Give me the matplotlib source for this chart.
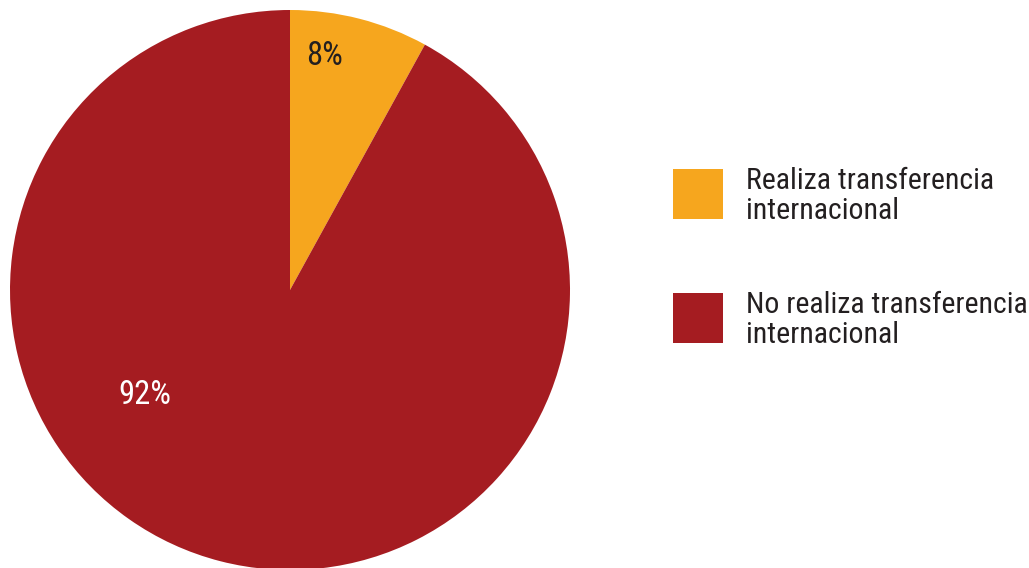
import matplotlib.pyplot as plt
from matplotlib.patches import Rectangle

# data
labels = ["Realiza transferencia\ninternacional", "No realiza transferencia\ninternacional"]
values = [8, 92]
colors = ["#F6A61E", "#A51C21"]
# where the percentage labels sit, in pie units (radius 1)
label_pos = [(0.125, 0.835), (-0.52, -0.375)]

plt.rcParams['font.family'] = ['Roboto Condensed', 'DejaVu Sans']

fig = plt.figure(figsize=(10.29, 5.68), dpi=100)
ax = fig.add_axes([10 / 1029, -2 / 568, 560 / 1029, 560 / 568])
ax.pie(values, colors=colors, startangle=90, counterclock=False, radius=1,
       wedgeprops=dict(linewidth=0))
ax.set_xlim(-1, 1)
ax.set_ylim(-1, 1)
ax.set_aspect('equal')
ax.axis('off')

txt_colors = ["#231F20", "white"]
for v, (x, y), c in zip(values, label_pos, txt_colors):
    ax.text(x, y, f"{v}%", ha='center', va='center', fontsize=23.5, color=c)

# legend drawn by hand
W, H = 1029, 568
for i, (lab, col) in enumerate(zip(labels, colors)):
    top = 169 + i * 124
    fig.patches.append(Rectangle((673 / W, 1 - (top + 50) / H), 50 / W, 50 / H,
                                 facecolor=col, transform=fig.transFigure, figure=fig))
    fig.text(746 / W, 1 - (top + 27) / H, lab, ha='left', va='center', fontsize=21.5,
             color="#231F20", linespacing=1.06)

fig.savefig("out.png", dpi=100)
